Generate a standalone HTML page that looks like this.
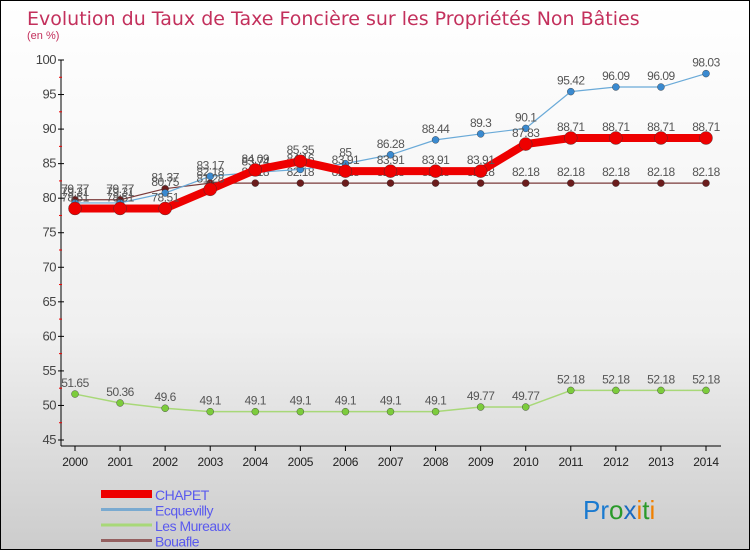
<!DOCTYPE html>
<html><head><meta charset="utf-8"><style>
body{margin:0}
#wrap{width:748px;height:548px;border:1px solid #000;background:linear-gradient(#fff,#f0f0f0 60%,#ccc);position:relative;font-family:"Liberation Sans",sans-serif}
</style></head><body>
<div id="wrap">
<svg id="chart" width="748" height="548" font-family="Liberation Sans, sans-serif">
<text x="26" y="24" font-size="19" fill="#c3305c" font-family="DejaVu Sans, sans-serif">Evolution du Taux de Taxe Foncière sur les Propriétés Non Bâties</text>
<text x="26" y="38" font-size="11" fill="#c3305c">(en %)</text>
</svg>
</div>
<script>
const years=[2000,2001,2002,2003,2004,2005,2006,2007,2008,2009,2010,2011,2012,2013,2014];
const yTicks=[45,50,55,60,65,70,75,80,85,90,95,100];
const chapet=[78.51,78.51,78.51,81.28,84.09,85.35,83.91,83.91,83.91,83.91,87.83,88.71,88.71,88.71,88.71];
const ecquevilly=[79.31,79.31,80.75,83.17,83.74,84.16,85,86.28,88.44,89.3,90.1,95.42,96.09,96.09,98.03];
const mureaux=[51.65,50.36,49.6,49.1,49.1,49.1,49.1,49.1,49.1,49.77,49.77,52.18,52.18,52.18,52.18];
const bouafle=[79.77,79.77,81.37,82.18,82.18,82.18,82.18,82.18,82.18,82.18,82.18,82.18,82.18,82.18,82.18];
const seriesNames=["CHAPET","Ecquevilly","Les Mureaux","Bouafle"];
const svg=document.getElementById('chart');
const NS='http://www.w3.org/2000/svg';
const X=i=>74+i*(705-74)/(years.length-1);
const Y=v=>59+(100-v)*(439-59)/55;
function mk(t,a,p){const e=document.createElementNS(NS,t);for(const k in a)e.setAttribute(k,a[k]);(p||svg).appendChild(e);return e;}
let ax=mk('line',{x1:60,y1:59,x2:60,y2:445,stroke:'#000'});

let bx=mk('line',{x1:60,y1:445,x2:720,y2:445,stroke:'#000'});

yTicks.forEach(v=>{
 mk('line',{x1:57,y1:Y(v),x2:63,y2:Y(v),stroke:'#000'});
 if(v<100)mk('line',{x1:58,y1:Y(v+2.5),x2:61,y2:Y(v+2.5),stroke:'#e00'});
 const t=mk('text',{x:55,y:Y(v)+4,'font-size':13,fill:'#444','text-anchor':'end','letter-spacing':'-0.5'});t.textContent=v;
 
});
years.forEach((y,i)=>{
 mk('line',{x1:X(i),y1:445,x2:X(i),y2:450,stroke:'#000'});
 const t=mk('text',{x:X(i),y:465,'font-size':12,fill:'#222','text-anchor':'middle','letter-spacing':'-0.3'});t.textContent=y;
 
});
function series(vals,name,color,w,r,dot){
 const g=mk('g',{});
 const pts=vals.map((v,i)=>X(i)+','+Y(v)).join(' ');
 const l=mk('polyline',{points:pts,fill:'none',stroke:color,'stroke-width':w,'stroke-linejoin':'round'},g);
 
 vals.forEach((v,i)=>{
  const c=mk('circle',{cx:X(i),cy:Y(v),r:r,fill:dot,stroke:'#333','stroke-width':0.4},g);
  
  const t=mk('text',{x:X(i),y:Y(v)-7,'font-size':12,fill:'#555','text-anchor':'middle','letter-spacing':'-0.5'},g);t.textContent=v;
  
 });
}
series(bouafle,'bouafle','#7a3a3a',1.2,3.5,'#6b1c1c');
series(mureaux,'les-mureaux','#a8d878',1.5,3.5,'#7ccc3c');
series(ecquevilly,'ecquevilly','#6aaad8',1.2,3.5,'#3a8ad0');
series(chapet,'chapet','#ee0000',8,6.5,'#ee0000');
const leg=[["CHAPET","#ee0000",8],["Ecquevilly","#7aaad0",3],["Les Mureaux","#a8d878",3],["Bouafle","#946060",3]];
leg.forEach((d,i)=>{
 const yy=493+i*15.5;
 const g=mk('g',{});
 mk('line',{x1:100,y1:yy,x2:151,y2:yy,stroke:d[1],'stroke-width':d[2]},g);
 const t=mk('text',{x:154,y:yy+6,'font-size':14,fill:'#5a5aee','letter-spacing':'-0.5'},g);t.textContent=d[0];
});
const lg=mk('text',{x:582,y:518,'font-size':26});

[["P","#1a7ad0"],["r","#1a7ad0"],["o","#2a9a2a"],["x","#1a6ac0"],["i","#f08000"],["t","#2a9a2a"],["i","#f08000"]].forEach(c=>{const s=mk('tspan',{fill:c[1]},lg);s.textContent=c[0];});
</script>
</body></html>
